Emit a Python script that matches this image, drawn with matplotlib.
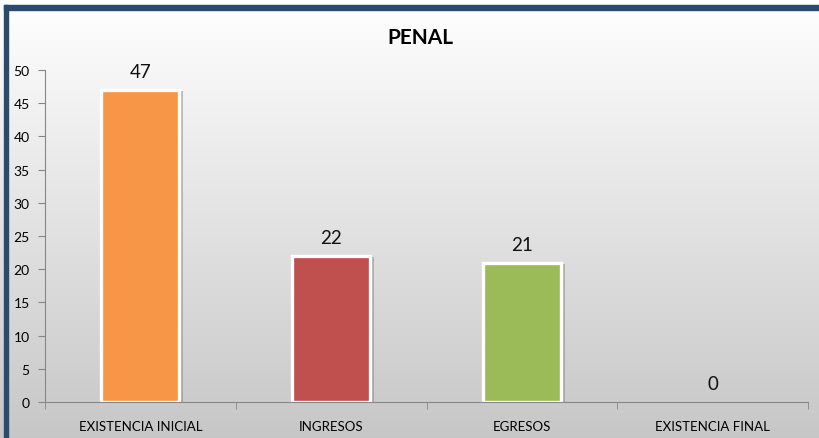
import numpy as np
import matplotlib.pyplot as plt
import matplotlib.transforms as mtransforms
from matplotlib.patches import Rectangle

categories = ["EXISTENCIA INICIAL", "INGRESOS", "EGRESOS", "EXISTENCIA FINAL"]
values = [47, 22, 21, 0]
colors = ["#F79646", "#C0504D", "#9BBB59", "#4F81BD"]

plt.rcParams['font.family'] = ['Lato', 'DejaVu Sans']

fig = plt.figure(figsize=(8.2, 4.39), dpi=100)

# background gradient
bg = fig.add_axes([0, 0, 1, 1], zorder=0)
grad = np.linspace(1, 0, 256).reshape(-1, 1)
top_c = np.array([0.995, 0.995, 0.995])
bot_c = np.array([0.78, 0.78, 0.78])
img = bot_c + (top_c - bot_c) * grad[..., None]
bg.imshow(img, aspect='auto', extent=[0, 1, 0, 1 - 11/439])
bg.set_xlim(0, 1)
bg.set_ylim(0, 1)
bg.axis('off')
# white strip at top and dark blue frame
bg.add_patch(Rectangle((0, 1 - 11/439), 1, 11/439, color='white', zorder=1))
bg.add_patch(Rectangle((4/820, 1 - 11/439), 1, 5/439, color='#2C4A6E', zorder=2))
bg.add_patch(Rectangle((4/820, 0), 3.5/820, 1 - 6/439, color='#2C4A6E', zorder=2))

ax = fig.add_axes([45/820, 36/439, 763/820, 332/439], zorder=1)
ax.patch.set_alpha(0)

x = np.arange(len(categories))
w = 0.41

# shadow
shadow = mtransforms.offset_copy(ax.transData, fig=fig, x=4, y=-1.5, units='dots')
for xi, v, c in zip(x, values, colors):
    if v > 0:
        ax.add_patch(Rectangle((xi - w/2, 0), w, v, color='#7a7a7a', alpha=0.45,
                               transform=shadow, zorder=1, linewidth=0))
        ax.bar(xi, v, width=w, color=c, edgecolor='white', linewidth=2.4, zorder=2)

for xi, v in zip(x, values):
    ax.annotate(str(v), (xi, v), xytext=(0, 7), textcoords='offset points',
                ha='center', va='bottom', fontsize=13.5, color='#111111')

ax.set_xlim(-0.5, 3.5)
ax.set_ylim(0, 50)
ax.set_yticks(np.arange(0, 51, 5))
ax.set_xticks(x)
ax.set_xticklabels(categories, fontsize=9.5)
ax.set_xticks(np.arange(-0.5, 4, 1), minor=True)
ax.tick_params(axis='x', which='major', length=0, pad=13)
ax.tick_params(axis='x', which='minor', length=5, color='#868686', direction='out')
ax.tick_params(axis='y', length=5, color='#868686', labelsize=10, pad=6)
for s in ['top', 'right']:
    ax.spines[s].set_visible(False)
for s in ['left', 'bottom']:
    ax.spines[s].set_color('#868686')

fig.text(420/820, 1 - 38/439, "PENAL", ha='center', va='center',
         fontsize=15, fontweight='bold')

fig.savefig("out.png", dpi=100)
